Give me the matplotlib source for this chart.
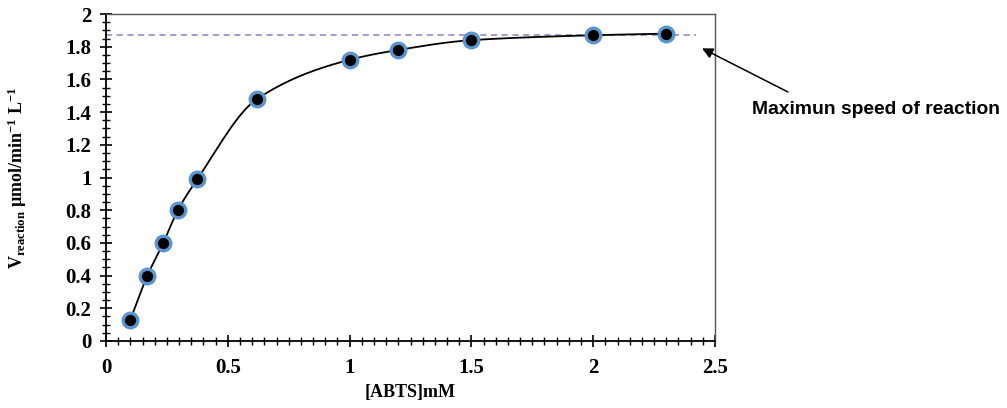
import numpy as np
import matplotlib
matplotlib.use("Agg")
import matplotlib.pyplot as plt
from matplotlib.ticker import MultipleLocator

abts = [0.1, 0.17, 0.235, 0.295, 0.375, 0.62, 1.0, 1.2, 1.5, 2.0, 2.3]
v_reaction = [0.13, 0.40, 0.60, 0.80, 0.99, 1.48, 1.72, 1.78, 1.84, 1.87, 1.88]
v_max = 1.87

plt.rcParams['font.family'] = ['Liberation Serif', 'DejaVu Serif']
plt.rcParams['mathtext.fontset'] = 'custom'
plt.rcParams['mathtext.rm'] = 'Liberation Serif:bold'
plt.rcParams['mathtext.bf'] = 'Liberation Serif:bold'
plt.rcParams['mathtext.it'] = 'Liberation Serif:bold'


def smooth_curve(x, y, n=40):
    # monotone cubic hermite, only used to draw the smoothed line
    x = np.asarray(x, float)
    y = np.asarray(y, float)
    h = np.diff(x)
    d = np.diff(y) / h
    m = np.zeros_like(y)
    m[0], m[-1] = d[0], d[-1]
    for i in range(1, len(x) - 1):
        if d[i - 1] * d[i] > 0:
            w1 = 2 * h[i] + h[i - 1]
            w2 = h[i] + 2 * h[i - 1]
            m[i] = (w1 + w2) / (w1 / d[i - 1] + w2 / d[i])
    xs, ys = [], []
    for i in range(len(x) - 1):
        t = np.linspace(0, 1, n)
        h00 = 2 * t**3 - 3 * t**2 + 1
        h10 = t**3 - 2 * t**2 + t
        h01 = -2 * t**3 + 3 * t**2
        h11 = t**3 - t**2
        xs.append(x[i] + t * h[i])
        ys.append(h00 * y[i] + h10 * h[i] * m[i] + h01 * y[i + 1] + h11 * h[i] * m[i + 1])
    return np.concatenate(xs), np.concatenate(ys)


fig = plt.figure(figsize=(10.07, 4.08), dpi=100)
ax = fig.add_axes([106 / 1007, 67 / 408, 609 / 1007, 327 / 408])

ax.plot([0, 2.42], [v_max, v_max], linestyle=(0, (4, 3)), color='#8d7fc4', linewidth=1.1)
sx, sy = smooth_curve(abts, v_reaction)
ax.plot(sx, sy, color='black', linewidth=1.3)
ax.plot(abts, v_reaction, 'o', markersize=10.5, markerfacecolor='black',
        markeredgecolor='#5b95d0', markeredgewidth=2.4)

ax.set_xlim(0, 2.5)
ax.set_ylim(0, 2)
ax.xaxis.set_minor_locator(MultipleLocator(0.05))
ax.yaxis.set_minor_locator(MultipleLocator(0.05))
ax.set_xticks([0, 0.5, 1, 1.5, 2, 2.5])
ax.set_xticklabels(['0', '0.5', '1', '1.5', '2', '2.5'])
ax.set_yticks(np.arange(0, 2.01, 0.2))
ax.set_yticklabels(['0', '0.2', '0.4', '0.6', '0.8', '1', '1.2', '1.4', '1.6', '1.8', '2'])
ax.tick_params(which='major', direction='inout', length=9, width=1.2, labelsize=15)
ax.tick_params(axis='x', which='major', pad=8)
ax.tick_params(axis='y', which='major', pad=6)
ax.tick_params(which='minor', direction='inout', length=6, width=1.0)
for lab in ax.get_xticklabels() + ax.get_yticklabels():
    lab.set_fontweight('bold')

for side in ['left', 'bottom']:
    ax.spines[side].set_linewidth(1.3)
for side in ['top', 'right']:
    ax.spines[side].set_color('#555555')
    ax.spines[side].set_linewidth(1.0)

ax.set_xlabel('[ABTS]mM', fontsize=13, fontweight='bold', labelpad=4)
ax.set_ylabel(r'V$_{\mathrm{reaction}}$ µmol/min$^{\mathrm{-1}}$ L$^{\mathrm{-1}}$',
              fontsize=13, fontweight='bold', labelpad=26)

ax.annotate('', xy=(2.447, 1.79), xycoords='data',
            xytext=(788, 316), textcoords='figure pixels',
            arrowprops=dict(arrowstyle='-|>', color='black', lw=1.1,
                            shrinkA=0, shrinkB=0, mutation_scale=16),
            annotation_clip=False)
fig.text(752 / 1007, 1 - 110 / 408, 'Maximun speed of reaction', fontsize=13.9,
         fontweight='bold', family=['Liberation Sans', 'DejaVu Sans'],
         ha='left', va='center')

fig.savefig('out.png', dpi=100)
